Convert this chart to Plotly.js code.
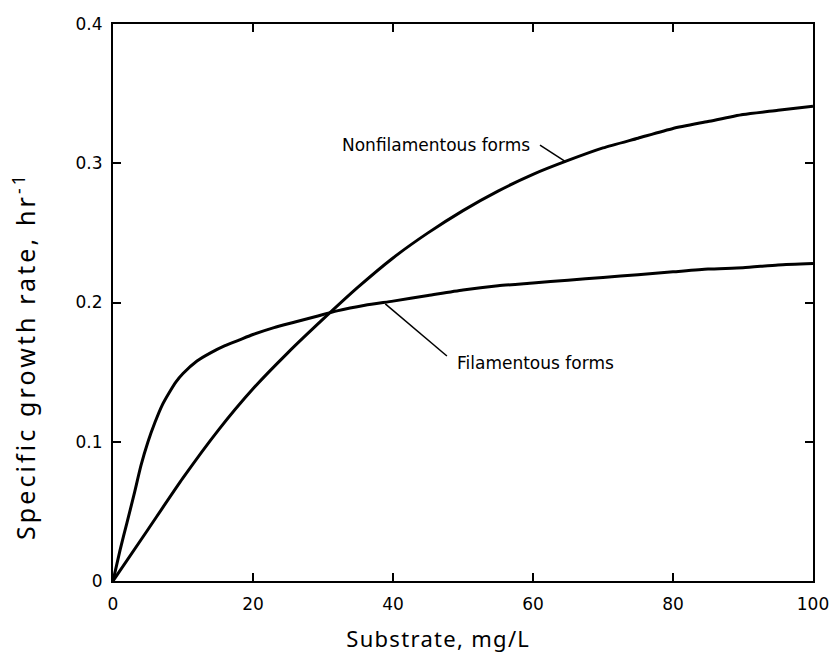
<!DOCTYPE html>
<html>
<head>
<meta charset="utf-8">
<script src="https://cdn.plot.ly/plotly-3.0.1.min.js"></script>
<style>
html,body{margin:0;padding:0;background:#fff;}
#chart{width:832px;height:653px;}
.annotation[data-index="0"] text{letter-spacing:1.3px;}
.annotation[data-index="1"] text{letter-spacing:3.1px;}
</style>
</head>
<body>
<div id="chart"></div>
<script>
// Substrate concentration (mg/L) and specific growth rate (1/hr)
const filS = [0,1,2,3,4,5,6,7,8,9,10,12,14,16,18,20,23,26,29,32,36,40,45,50,55,60,65,70,75,80,85,90,95,100];
const filMu = [0,0.022,0.042,0.062,0.083,0.100,0.114,0.126,0.135,0.143,0.149,0.158,0.164,0.169,0.173,0.177,0.182,0.186,0.190,0.194,0.198,0.201,0.205,0.209,0.212,0.214,0.216,0.218,0.220,0.222,0.224,0.225,0.227,0.228];
const nonS = [0,5,10,15,20,25,30,35,40,45,50,55,60,65,70,75,80,85,90,95,100];
const nonMu = [0,0.037,0.074,0.108,0.138,0.164,0.188,0.211,0.232,0.250,0.266,0.280,0.292,0.302,0.311,0.318,0.325,0.330,0.335,0.338,0.341];
const xTicks = [0,20,40,60,80,100];
const yTicks = [0,0.1,0.2,0.3,0.4];
const yTickText = ['0','0.1','0.2','0.3','0.4'];
const seriesNames = ['Filamentous forms','Nonfilamentous forms'];
const xTitle = 'Substrate, mg/L';
const yTitle = 'Specific growth rate, hr<sup>-1</sup>';

const tickFont = {family:'DejaVu Sans, Liberation Sans, Arial, sans-serif', size:17, color:'#000'};
const titleFontX = {family:'Noto Sans, Open Sans, sans-serif', size:22, color:'#000'};
const titleFontY = {family:'Noto Sans, Open Sans, sans-serif', size:25, color:'#000'};

const traces = [
  {x:filS, y:filMu, name:seriesNames[0], mode:'lines', line:{color:'#000', width:3, shape:'spline', smoothing:0.6}, hoverinfo:'x+y'},
  {x:nonS, y:nonMu, name:seriesNames[1], mode:'lines', line:{color:'#000', width:3, shape:'spline', smoothing:0.6}, hoverinfo:'x+y'}
];

const axisCommon = {
  showline:true, linewidth:2, linecolor:'#000', mirror:'allticks',
  ticks:'inside', ticklen:8, tickwidth:2, tickcolor:'#000',
  showgrid:false, zeroline:false, tickfont:tickFont, fixedrange:true
};

const layout = {
  width:832, height:653,
  margin:{l:113, r:19, t:24, b:72},
  paper_bgcolor:'#fff', plot_bgcolor:'#fff',
  showlegend:false,
  xaxis:Object.assign({}, axisCommon, {range:[0,100], tickmode:'array', tickvals:xTicks, ticklabelstandoff:7}),
  yaxis:Object.assign({}, axisCommon, {range:[0,0.4], tickmode:'array', tickvals:yTicks, ticktext:yTickText, ticklabelstandoff:5}),
  annotations:[
    {xref:'paper', yref:'paper', x:0.4636, y:-0.1023, xanchor:'center', yanchor:'middle', showarrow:false,
     text:xTitle, font:titleFontX},
    {xref:'paper', yref:'paper', x:-0.126, y:0.404, xanchor:'center', yanchor:'middle', showarrow:false, textangle:-90,
     text:yTitle, font:titleFontY},
    {xref:'x', yref:'y', x:46.1, y:0.313, xanchor:'center', yanchor:'middle', showarrow:false,
     text:seriesNames[1], font:tickFont},
    {xref:'x', yref:'y', x:60.3, y:0.1566, xanchor:'center', yanchor:'middle', showarrow:false,
     text:seriesNames[0], font:tickFont}
  ],
  shapes:[
    {type:'line', xref:'x', yref:'y', x0:61.0, y0:0.313, x1:64.7, y1:0.301, line:{color:'#000', width:1.5}},
    {type:'line', xref:'x', yref:'y', x0:38.9, y0:0.199, x1:47.7, y1:0.1616, line:{color:'#000', width:1.5}}
  ]
};

Plotly.newPlot('chart', traces, layout, {displayModeBar:false, staticPlot:true});
</script>
</body>
</html>
